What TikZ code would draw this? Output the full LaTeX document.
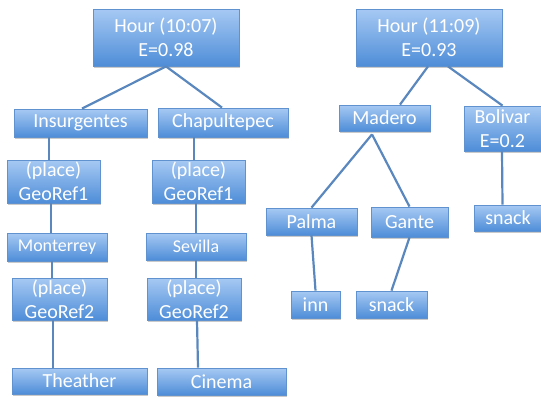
\documentclass[tikz,border=0pt]{standalone}
\usepackage{fontspec}
\setmainfont{Carlito}
\usetikzlibrary{shadows}
\definecolor{boxtop}{HTML}{A6C9F3}
\definecolor{boxbot}{HTML}{4E8DD8}
\definecolor{boxline}{HTML}{5F92CE}
\definecolor{wire}{HTML}{5A88BE}
\tikzset{
  box/.style={draw=boxline, line width=0.8pt, top color=boxtop, bottom color=boxbot,
    text=white, font=\fontsize{20}{24}\selectfont, align=center, inner sep=0pt,
    drop shadow={shadow xshift=0.8pt, shadow yshift=-1.5pt, opacity=0.35, fill=black!60}},
  wirestyle/.style={draw=wire, line width=2.2pt}
}
\begin{document}
\begin{tikzpicture}[x=1pt,y=-1pt]
\useasboundingbox (0,0) rectangle (541,397);
% left tree
\node[box, minimum width=146, minimum height=57] (h1) at (166,37.5) {Hour (10:07)\\E=0.98};
\node[box, minimum width=133, minimum height=28] (ins) at (80.5,123) {Insurgentes};
\node[box, minimum width=130, minimum height=29] (chap) at (223,122.5) {Chapultepec};
\node[box, minimum width=93, minimum height=43] (g1l) at (53.5,181.5) {(place)\\GeoRef1};
\node[box, minimum width=93, minimum height=43] (g1r) at (198.5,181.5) {(place)\\GeoRef1};
\node[box, minimum width=100, minimum height=28, font=\fontsize{18}{21}\selectfont] (mon) at (57,247) {Monterrey};
\node[box, minimum width=100, minimum height=27, font=\fontsize{18}{21}\selectfont] (sev) at (196,246.5) {Sevilla};
\node[box, minimum width=95, minimum height=42] (g2l) at (59.5,299) {(place)\\GeoRef2};
\node[box, minimum width=94, minimum height=42] (g2r) at (194,299) {(place)\\GeoRef2};
\node[box, minimum width=135, minimum height=26] (the) at (79.5,381) {Theather};
\node[box, minimum width=129, minimum height=27] (cin) at (221.5,381.5) {Cinema};
% right tree
\node[box, minimum width=146, minimum height=57] (h2) at (429,37.5) {Hour (11:09)\\E=0.93};
\node[box, minimum width=91, minimum height=26] (mad) at (384.5,118) {Madero};
\node[box, minimum width=77, minimum height=45] (bol) at (502.5,128.5) {Bolivar\\E=0.2};
\node[box, minimum width=68, minimum height=26] (sn3) at (508,218) {snack};
\node[box, minimum width=91, minimum height=27] (pal) at (311.5,221.5) {Palma};
\node[box, minimum width=77, minimum height=30] (gan) at (409.5,222) {Gante};
\node[box, minimum width=49, minimum height=27] (inn) at (315.5,304.5) {inn};
\node[box, minimum width=71, minimum height=27] (sn2) at (391.5,304.5) {snack};
% connectors
\draw[wirestyle] (h1.south) -- ([xshift=1.5pt]ins.north);
\draw[wirestyle] (h1.south) -- ([xshift=-1pt]chap.north);
\draw[wirestyle] ([xshift=-4.5pt]g1l.north |- ins.south) -- ([xshift=-4.5pt]g1l.north);
\draw[wirestyle] ([xshift=-4.5pt]g1r.north |- chap.south) -- ([xshift=-4.5pt]g1r.north);
\draw[wirestyle] ([xshift=-6pt]mon.north |- g1l.south) -- ([xshift=-6pt]mon.north);
\draw[wirestyle] (sev.north |- g1r.south) -- (sev.north);
\draw[wirestyle] ([xshift=-7.5pt]g2l.north |- mon.south) -- ([xshift=-7.5pt]g2l.north);
\draw[wirestyle] ([xshift=2pt]g2r.north |- sev.south) -- ([xshift=2pt]g2r.north);
\draw[wirestyle] ([xshift=-26.5pt]the.north |- g2l.south) -- ([xshift=-26.5pt]the.north);
\draw[wirestyle] ([xshift=3pt]g2r.south) -- ([xshift=-23.5pt]cin.north);
\draw[wirestyle] ([xshift=-1pt]h2.south) -- ([xshift=15.5pt]mad.north);
\draw[wirestyle] ([xshift=19pt]h2.south) -- (bol.north);
\draw[wirestyle] ([xshift=-12.5pt,yshift=-3pt]mad.south) -- (pal.north);
\draw[wirestyle] ([xshift=-12.5pt,yshift=-3pt]mad.south) -- (gan.north);
\draw[wirestyle] ([xshift=-0.5pt]bol.south) -- ([xshift=-5.5pt]sn3.north);
\draw[wirestyle] (pal.south) -- (inn.north);
\draw[wirestyle] (gan.south) -- (sn2.north);
\end{tikzpicture}
\end{document}
